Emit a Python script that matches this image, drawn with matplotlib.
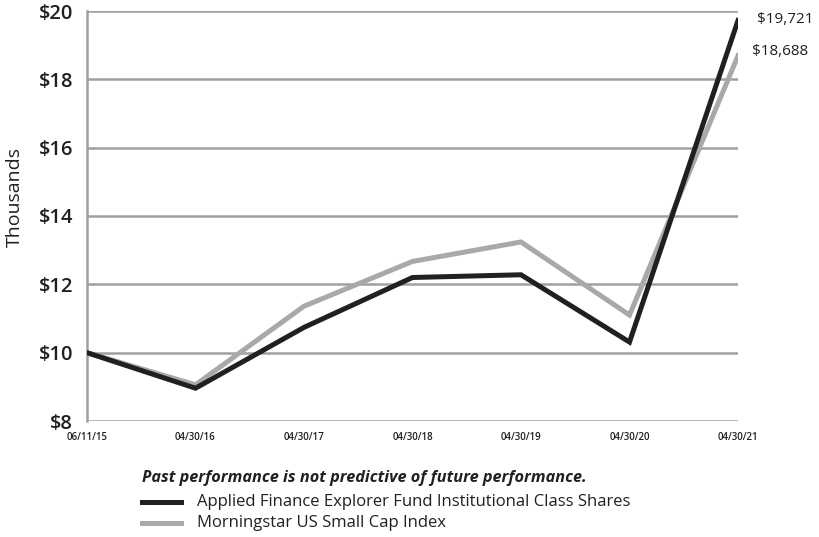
import matplotlib
matplotlib.use("Agg")
import matplotlib.pyplot as plt
from matplotlib.lines import Line2D

plt.rcParams['font.family'] = ['Open Sans', 'DejaVu Sans']

dates = ["06/11/15", "04/30/16", "04/30/17", "04/30/18", "04/30/19", "04/30/20", "04/30/21"]
fund = [10.0, 8.96, 10.74, 12.2, 12.28, 10.31, 19.721]
index = [10.0, 9.06, 11.36, 12.67, 13.24, 11.1, 18.688]
yticks = [8, 10, 12, 14, 16, 18, 20]
fund_name = "Applied Finance Explorer Fund Institutional Class Shares"
index_name = "Morningstar US Small Cap Index"

BLACK = "#231f20"
GRAY = "#a7a9ac"
GRID = "#a0a0a2"

fig = plt.figure(figsize=(8.19, 5.37), dpi=100)
ax = fig.add_axes([87 / 819, 1 - 421 / 537, (738 - 87) / 819, (421 - 11) / 537])

x = list(range(len(dates)))
ax.plot(x, index, color=GRAY, lw=3.6, solid_joinstyle="miter", zorder=3)
ax.plot(x, fund, color=BLACK, lw=3.6, solid_joinstyle="miter", zorder=4)

ax.set_xlim(0, len(dates) - 1)
ax.set_ylim(8, 20)
ax.set_yticks(yticks)
ax.set_yticklabels([f"${v}" for v in yticks], fontsize=14.5, fontweight="semibold", color=BLACK)
ax.set_xticks(x)
ax.set_xticklabels(dates, fontsize=7, fontweight="semibold", color=BLACK)
ax.tick_params(axis="both", length=0)
ax.tick_params(axis="y", pad=10)
ax.tick_params(axis="x", pad=8)

for v in yticks:
    ax.axhline(v, color=GRID, lw=1.8, zorder=1)
for side in ["top", "right", "bottom"]:
    ax.spines[side].set_visible(False)
ax.spines["left"].set_color(GRID)
ax.spines["left"].set_linewidth(1.8)

fig.text(15 / 819, 1 - 197 / 537, "Thousands", rotation=90, fontsize=14,
         color=BLACK, ha="center", va="center")

ax.annotate(f"${fund[-1] * 1000:,.0f}", xy=(x[-1], fund[-1]), xytext=(14, 1),
            textcoords="offset points", fontsize=11, color=BLACK, va="center",
            annotation_clip=False)
ax.annotate(f"${index[-1] * 1000:,.0f}", xy=(x[-1], index[-1]), xytext=(10, 3),
            textcoords="offset points", fontsize=11, color=BLACK, va="center",
            annotation_clip=False)

fig.text(364 / 819, 1 - 478 / 537, "Past performance is not predictive of future performance.",
         fontsize=11.7, fontweight="bold", style="italic", color=BLACK, ha="center", va="center")

for ypix, col, name in [(502, BLACK, fund_name), (523, GRAY, index_name)]:
    yf = 1 - ypix / 537
    fig.add_artist(Line2D([142 / 819, 181 / 819], [yf, yf], color=col, lw=3.6,
                          transform=fig.transFigure))
    fig.text(197 / 819, yf, name, fontsize=12, color=BLACK, ha="left", va="center")

fig.savefig("out.png", dpi=100)
